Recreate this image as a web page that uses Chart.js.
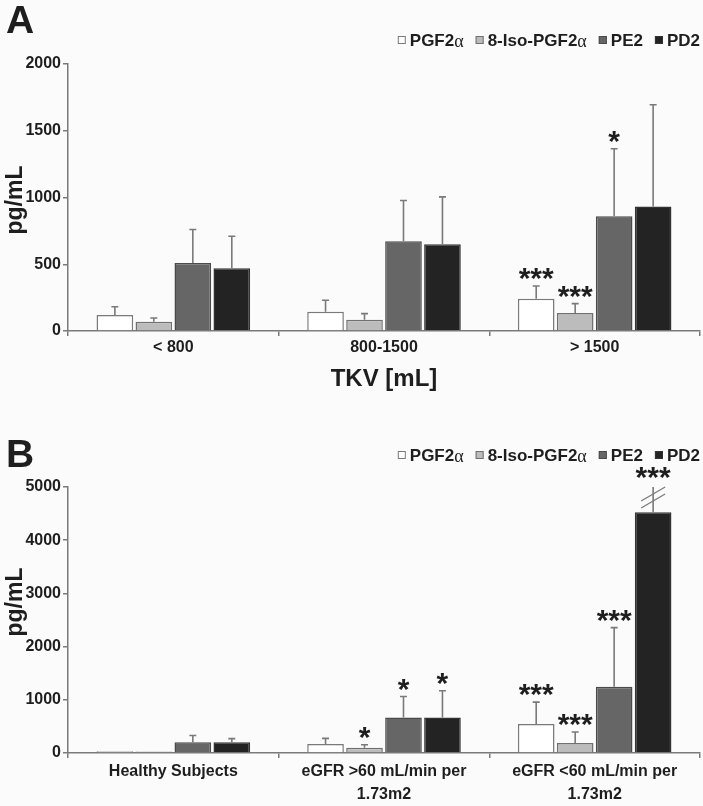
<!DOCTYPE html>
<html>
<head>
<meta charset="utf-8">
<script src="https://cdn.jsdelivr.net/npm/chart.js@4.4.0/dist/chart.umd.min.js"></script>
<style>
  html, body { margin: 0; padding: 0; background: #fbfbfb; }
  .panel { position: absolute; left: 0; width: 703px; }
  #panelA { top: 0; height: 400px; }
  #panelB { top: 400px; height: 406px; }
</style>
</head>
<body>
<div class="panel" id="panelA"><canvas id="chartA"></canvas></div>
<div class="panel" id="panelB"><canvas id="chartB"></canvas></div>
<script>
// ---- data ----
const seriesNames = ['PGF2α', '8-Iso-PGF2α', 'PE2', 'PD2'];

// Panel A: grouped by total kidney volume
const tkvLabels = ['< 800', '800-1500', '> 1500'];
const tkvPGF2a = [120, 145, 242];
const tkvIsoPGF2a = [70, 85, 135];
const tkvPE2 = [510, 672, 860];
const tkvPD2 = [470, 650, 932];
const tkvPGF2aErr = [62, 85, 95];
const tkvIsoPGF2aErr = [27, 45, 70];
const tkvPE2Err = [250, 305, 505];
const tkvPD2Err = [240, 355, 763];
const tkvPGF2aSig = ['', '', '***'];
const tkvIsoPGF2aSig = ['', '', '***'];
const tkvPE2Sig = ['', '', '*'];
const tkvPD2Sig = ['', '', ''];

// Panel B: grouped by kidney function
const gfrLabels = [['Healthy Subjects'], ['eGFR >60 mL/min per', '1.73m2'], ['eGFR <60 mL/min per', '1.73m2']];
const gfrPGF2a = [35, 170, 544];
const gfrIsoPGF2a = [30, 100, 187];
const gfrPE2 = [200, 669, 1244];
const gfrPD2 = [200, 669, 4525];
const gfrPGF2aErr = [0, 105, 412];
const gfrIsoPGF2aErr = [0, 56, 207];
const gfrPE2Err = [130, 393, 1112];
const gfrPD2Err = [70, 500, 480]; // last one runs past the axis -> broken
const gfrPGF2aSig = ['', '', '***'];
const gfrIsoPGF2aSig = ['', '*', '***'];
const gfrPE2Sig = ['', '*', '***'];
const gfrPD2Sig = ['', '*', '***'];

// ---- style ----
const FONT = "'Liberation Sans', Arial, sans-serif";
const TEXT = '#1e1e1e';
const AXIS = '#7a7a7a';
const fills = ['#ffffff', '#bcbcbc', '#666666', '#232323'];
const borders = ['#7a7a7a', '#707070', '#4a4a4a', '#333333'];

function makeDatasets(values, errs, sigs) {
  return values.map((v, i) => ({
    label: seriesNames[i],
    data: v,
    errors: errs[i],
    sig: sigs[i],
    backgroundColor: fills[i],
    borderColor: borders[i],
    borderWidth: 1.5,
    categoryPercentage: 0.74,
    barPercentage: 0.94
  }));
}

// error bars (upper only), significance stars, axis breaks
const errorBars = {
  id: 'errorBars',
  afterDatasetsDraw(chart) {
    const ctx = chart.ctx;
    const y = chart.scales.y;
    ctx.save();
    chart.data.datasets.forEach((ds, di) => {
      const meta = chart.getDatasetMeta(di);
      meta.data.forEach((bar, i) => {
        const top = ds.data[i] + ds.errors[i];
        const broken = top > y.max;
        const yTop = y.getPixelForValue(Math.min(top, y.max));
        ctx.strokeStyle = AXIS;
        ctx.lineWidth = 1.6;
        if (ds.errors[i] > 0) {
          ctx.beginPath();
          ctx.moveTo(bar.x, bar.y);
          ctx.lineTo(bar.x, yTop);
          if (!broken) {
            ctx.moveTo(bar.x - 3.5, yTop);
            ctx.lineTo(bar.x + 3.5, yTop);
          }
          ctx.stroke();
        }
        if (broken) {
          ctx.lineWidth = 1.3;
          ctx.beginPath();
          [7, 14].forEach(d => {
            ctx.moveTo(bar.x - 12, yTop + d + 7);
            ctx.lineTo(bar.x + 12, yTop + d - 7);
          });
          ctx.stroke();
        }
        const s = ds.sig[i];
        if (s) {
          const markTop = ds.errors[i] > 0 ? yTop : bar.y;
          ctx.font = 'bold 30px ' + FONT;
          ctx.fillStyle = TEXT;
          ctx.textAlign = 'center';
          ctx.textBaseline = 'alphabetic';
          const m = ctx.measureText(s);
          const mid = (m.actualBoundingBoxAscent - m.actualBoundingBoxDescent) / 2;
          const cy = markTop - (broken ? 14 : 12);
          ctx.fillText(s, bar.x, cy + mid);
        }
      });
    });
    ctx.restore();
  }
};

// panel letter, rotated y title, legend
const panelDecor = {
  id: 'panelDecor',
  afterDraw(chart) {
    const o = chart.config.options.decor;
    const ctx = chart.ctx;
    ctx.save();
    ctx.fillStyle = TEXT;
    ctx.textBaseline = 'alphabetic';
    ctx.textAlign = 'left';
    ctx.font = 'bold 39px ' + FONT;
    ctx.fillText(o.letter, 6, o.letterY);

    ctx.save();
    ctx.translate(16, o.titleY);
    ctx.rotate(-Math.PI / 2);
    ctx.textAlign = 'center';
    ctx.textBaseline = 'middle';
    ctx.font = 'bold 23px ' + FONT;
    ctx.fillText('pg/mL', 0, 0);
    ctx.restore();

    // legend, right aligned to the plot edge
    const bold = 'bold 17px ' + FONT;
    const greek = '18px "Liberation Serif", serif';
    const items = chart.data.datasets.map(ds => {
      const hasA = ds.label.endsWith('α');
      const main = hasA ? ds.label.slice(0, -1) : ds.label;
      ctx.font = bold;
      const mw = ctx.measureText(main).width;
      ctx.font = greek;
      const gw = hasA ? ctx.measureText('α').width : 0;
      return { ds, main, hasA, mw, gw, w: 8 + 4 + mw + gw };
    });
    const gap = 12;
    const total = items.reduce((a, it) => a + it.w, 0) + gap * (items.length - 1);
    let x = chart.chartArea.right - total;
    const cy = o.legendY;
    ctx.textBaseline = 'middle';
    items.forEach(it => {
      ctx.fillStyle = it.ds.backgroundColor;
      ctx.strokeStyle = it.ds.borderColor;
      ctx.lineWidth = 1;
      ctx.fillRect(x, cy - 4, 8, 8);
      ctx.strokeRect(x + 0.5, cy - 3.5, 7, 7);
      ctx.fillStyle = TEXT;
      ctx.font = bold;
      ctx.fillText(it.main, x + 12, cy + 1);
      if (it.hasA) {
        ctx.font = greek;
        ctx.fillText('α', x + 12 + it.mw, cy + 2);
      }
      x += it.w + gap;
    });
    ctx.restore();
  }
};

function makeChart(id, labels, datasets, yMax, step, opts) {
  return new Chart(document.getElementById(id), {
    type: 'bar',
    data: { labels: labels, datasets: datasets },
    plugins: [errorBars, panelDecor],
    options: {
      responsive: true,
      maintainAspectRatio: false,
      animation: false,
      decor: opts.decor,
      layout: { padding: { left: 0, right: 3, top: opts.top, bottom: 0 } },
      plugins: { legend: { display: false }, tooltip: { enabled: false } },
      scales: {
        x: {
          offset: true,
          grid: { offset: true, drawOnChartArea: false, drawTicks: true, tickLength: 5, color: AXIS, lineWidth: 1.5 },
          border: { color: AXIS, width: 1.5 },
          ticks: {
            color: TEXT, padding: 2, maxRotation: 0, autoSkip: false,
            font: { family: FONT, size: 16, weight: 'bold', lineHeight: opts.tickLine }
          },
          title: {
            display: !!opts.xTitle, text: opts.xTitle, color: TEXT,
            font: { family: FONT, size: 24, weight: 'bold', lineHeight: 1.2 },
            padding: { top: 0, bottom: 6 }
          },
          afterFit: s => { s.height = opts.xHeight; }
        },
        y: {
          min: 0, max: yMax,
          ticks: {
            stepSize: step, color: TEXT, padding: 2,
            font: { family: FONT, size: 16, weight: 'bold' },
            callback: v => String(v)
          },
          grid: { drawOnChartArea: false, drawTicks: true, tickLength: 5, color: AXIS, lineWidth: 1.5 },
          border: { color: AXIS, width: 1.5 },
          afterFit: s => { s.width = 68; }
        }
      }
    }
  });
}

makeChart('chartA', tkvLabels,
  makeDatasets([tkvPGF2a, tkvIsoPGF2a, tkvPE2, tkvPD2],
               [tkvPGF2aErr, tkvIsoPGF2aErr, tkvPE2Err, tkvPD2Err],
               [tkvPGF2aSig, tkvIsoPGF2aSig, tkvPE2Sig, tkvPD2Sig]),
  2000, 500,
  { top: 64, xHeight: 69, tickLine: 1.2, xTitle: 'TKV [mL]',
    decor: { letter: 'A', letterY: 33, titleY: 200, legendY: 40 } });

makeChart('chartB', gfrLabels,
  makeDatasets([gfrPGF2a, gfrIsoPGF2a, gfrPE2, gfrPD2],
               [gfrPGF2aErr, gfrIsoPGF2aErr, gfrPE2Err, gfrPD2Err],
               [gfrPGF2aSig, gfrIsoPGF2aSig, gfrPE2Sig, gfrPD2Sig]),
  5000, 1000,
  { top: 87, xHeight: 53, tickLine: 1.45, xTitle: '',
    decor: { letter: 'B', letterY: 67, titleY: 202, legendY: 55 } });
</script>
</body>
</html>
